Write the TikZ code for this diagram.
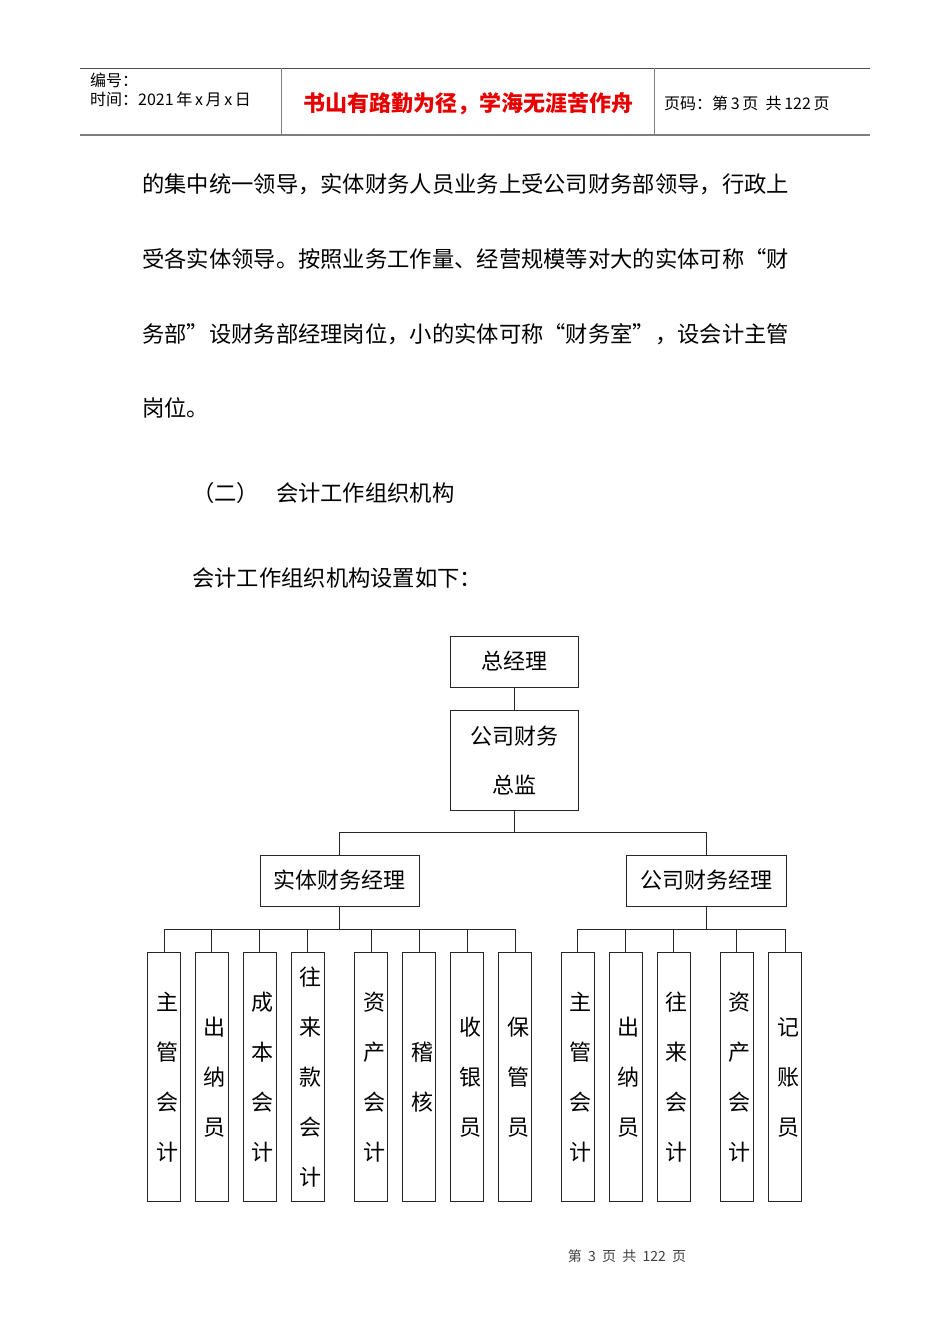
\documentclass[tikz,border=0pt]{standalone}
\usepackage{fontspec}
\setmainfont{Noto Sans CJK SC}
\usepackage{tikz}
\usetikzlibrary{calc}
\definecolor{headred}{HTML}{E60000}
\definecolor{rulegray}{HTML}{7F7F7F}

\tikzset{
    box/.style={draw=black!85, line width=1pt, inner sep=0pt, align=center,
        font=\fontsize{22}{49}\selectfont},
    post/.style={draw=black!85, line width=1pt, inner sep=0pt,
        minimum width=33pt, minimum height=249pt},
    posttext/.style={inner sep=0pt, align=center, font=\fontsize{22}{50}\selectfont},
    link/.style={draw=black!85, line width=1pt},
    body/.style={anchor=west, inner sep=0pt, font=\fontsize{22.3}{24}\selectfont},
    small/.style={anchor=west, inner sep=0pt, font=\fontsize{16}{18}\selectfont},
}

\begin{document}
\begin{tikzpicture}[x=1pt, y=-1pt]
    \useasboundingbox (0,0) rectangle (950,1344);
    % Header
    \draw[black!70, line width=1pt] (80,68) -- (870,68);
    \draw[rulegray, line width=2pt] (80,135) -- (870,135);
    \draw[rulegray, line width=1pt] (281,68) -- (281,135);
    \draw[rulegray, line width=1pt] (654,68) -- (654,135);
    \node[small] (bh) at (90,80) {编号：};
    \node[small] (sj) at (90,99) {时间：2021\,年\,x\,月\,x\,日};
    \node[anchor=center, inner sep=0pt, text=headred, font=\fontsize{22}{24}\selectfont\bfseries] (motto) at (468,104) {书山有路勤为径，学海无涯苦作舟};
    \node[small] (ym) at (664,103) {页码：第\,3\,页\ \ 共\,122\,页};
    % Text
    \node[body] (p1) at (142,184) {的集中统一领导，实体财务人员业务上受公司财务部领导，行政上};
    \node[body] (p2) at (142,259) {受各实体领导。按照业务工作量、经营规模等对大的实体可称“财};
    \node[body] (p3) at (142,334) {务部”设财务部经理岗位，小的实体可称“财务室”，设会计主管};
    \node[body] (p4) at (142,408) {岗位。};
    \node[body] (h2) at (192,493) {（二）\hspace{17pt}会计工作组织机构};
    \node[body] (p5) at (192,578) {会计工作组织机构设置如下：};
    % Chart
    \node[box, minimum width=128pt, minimum height=51pt] (zjl) at (514,661.5) {总经理};
    \node[box, minimum width=128pt, minimum height=100pt] (zj) at (514,760) {公司财务\\总监};
    \node[box, minimum width=159pt, minimum height=51pt] (stjl) at (339.5,880.5) {实体财务经理};
    \node[box, minimum width=160pt, minimum height=51pt] (gsjl) at (706,880.5) {公司财务经理};
    \coordinate (topbus) at (514,832);
    \coordinate (lbus) at (339.5,929);
    \coordinate (rbus) at (706,929);
    \draw[link] (zjl) -- (zj);
    \draw[link] (zj.south) -- (topbus);
    \draw[link] (stjl.north) |- (topbus) -| (gsjl.north);
    \draw[link] (stjl.south) -- (lbus);
    \draw[link] (gsjl.south) -- (rbus);
    % Posts
    \foreach \x/\txt [count=\i] in {164/主\\管\\会\\计, 211.5/出\\纳\\员, 259.5/成\\本\\会\\计,
            307.5/往\\来\\款\\会\\计, 371/资\\产\\会\\计, 419/稽\\核, 467/收\\银\\员, 515/保\\管\\员} {
        \node[post] (l\i) at (\x,1077) {};
        \node[posttext] (lt\i) at ([xshift=3pt]l\i.center) {\txt};
        \draw[link] (l\i.north) |- (lbus);
    }
    \foreach \x/\txt [count=\i] in {577.5/主\\管\\会\\计, 625.5/出\\纳\\员, 673.5/往\\来\\会\\计,
            736.5/资\\产\\会\\计, 785/记\\账\\员} {
        \node[post] (r\i) at (\x,1077) {};
        \node[posttext] (rt\i) at ([xshift=3pt]r\i.center) {\txt};
        \draw[link] (r\i.north) |- (rbus);
    }
    % Footer
    \node[inner sep=0pt, text=black!75, font=\fontsize{14}{16}\selectfont] (foot) at (627,1256) {第\ \ 3\ \ 页\ \ 共\ \ 122\ \ 页};
\end{tikzpicture}
\end{document}
